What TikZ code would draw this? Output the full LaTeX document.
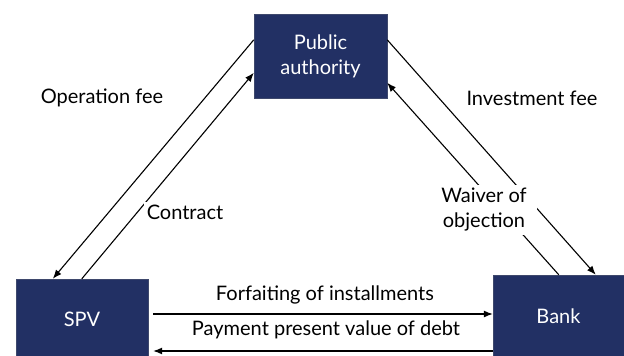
\documentclass[tikz,border=0pt]{standalone}
\usepackage{fontspec}
\setmainfont{Lato}
\usetikzlibrary{arrows.meta}
\definecolor{boxblue}{RGB}{34,48,100}

\tikzset{
  party/.style={fill=boxblue, draw=boxblue!70!gray, text=white, align=center, inner sep=0pt},
  lbl/.style={fill=white, inner sep=3pt, align=center},
  flow/.style={-{Latex[length=9pt,width=7pt]}, line width=1.1pt}
}

\begin{document}
\begin{tikzpicture}[x=1pt, y=-1pt, font=\fontsize{20}{25}\selectfont]
	\useasboundingbox (0,0) rectangle (624,356);

	\node[party, minimum width=133pt, minimum height=84pt] (pa) at (320.5,56) {Public\\authority};
	\node[party, minimum width=132pt, minimum height=80pt] (spv) at (82,319) {SPV};
	\node[party, minimum width=131pt, minimum height=82pt] (bank) at (558.5,316) {Bank};

	\draw[flow] ([yshift=-26pt]pa.north west) -- ([xshift=37pt]spv.north west);
	\draw[flow] ([xshift=66pt]spv.north west) -- ([yshift=-59pt]pa.north west);
	\draw[flow] ([yshift=-26pt]pa.north east) -- ([xshift=103pt]bank.north west);
	\draw[flow] ([xshift=66pt]bank.north west) -- ([yshift=-69pt]pa.north east);

	\coordinate (f0) at ([xshift=5pt, yshift=5pt]spv.east);
	\coordinate (p0) at ([yshift=-35pt]bank.west);
	\draw[flow] (f0) -- (f0 -| bank.west);
	\draw[flow] (p0) -- (p0 -| f0);

	\node[lbl] (opfee) at (102,98) {Operation fee};
	\node[lbl] (contract) at (185,212) {Contract};
	\node[lbl, inner xsep=9pt] (invfee) at (532,98) {Investment fee};
	\node[lbl, inner xsep=10pt] (waiver) at (484,210) {Waiver of\\objection};
	\node[lbl, inner sep=1pt] (forf) at (325,295) {Forfaiting of installments};
	\node[lbl, inner sep=1pt] (pay) at (326,330) {Payment present value of debt};
\end{tikzpicture}
\end{document}
